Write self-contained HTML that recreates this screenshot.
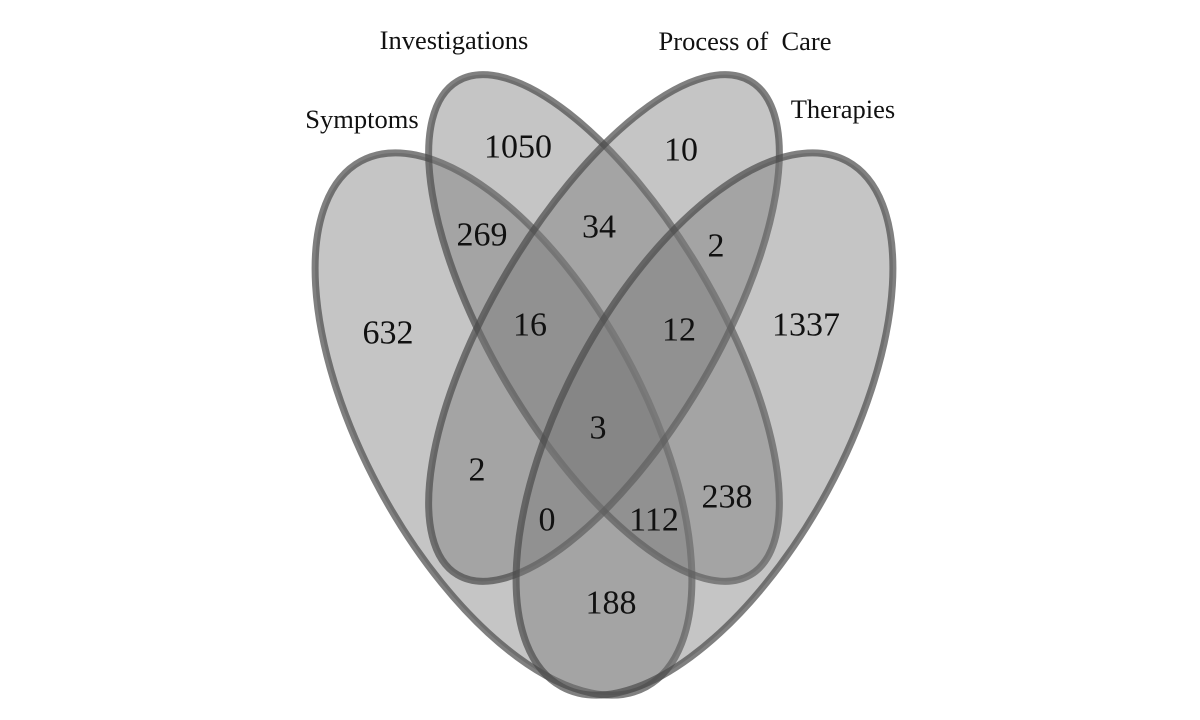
<!DOCTYPE html>
<html><head><style>
html,body{margin:0;padding:0;background:#fff;}
svg{display:block;}
text{font-family:"Liberation Serif",serif;fill:#111;text-anchor:middle;dominant-baseline:central;}
.n{font-size:34px;}
.l{font-size:26.5px;}
</style></head><body>
<svg width="1200" height="720" viewBox="0 0 1200 720">
<g fill="#787878" fill-opacity="0.43" stroke="#4a4a4a" stroke-opacity="0.7" stroke-width="7">
<ellipse cx="503.5" cy="424" rx="140" ry="299" transform="rotate(-28.5 503.5 424)"/>
<ellipse cx="604" cy="328" rx="112" ry="287" transform="rotate(-30.7 604 328)"/>
<ellipse cx="604" cy="328" rx="112" ry="287" transform="rotate(30.7 604 328)"/>
<ellipse cx="704.5" cy="424" rx="140" ry="299" transform="rotate(28.5 704.5 424)"/>
</g>
<text class="l" x="362" y="119">Symptoms</text>
<text class="l" x="454" y="40">Investigations</text>
<text class="l" x="745" y="41">Process of&#160; Care</text>
<text class="l" x="843" y="109">Therapies</text>
<text class="n" x="518" y="147">1050</text>
<text class="n" x="681" y="150">10</text>
<text class="n" x="482" y="235">269</text>
<text class="n" x="599" y="227">34</text>
<text class="n" x="716" y="246">2</text>
<text class="n" x="388" y="333">632</text>
<text class="n" x="530" y="325">16</text>
<text class="n" x="679" y="330">12</text>
<text class="n" x="806" y="325">1337</text>
<text class="n" x="598" y="428">3</text>
<text class="n" x="477" y="470">2</text>
<text class="n" x="727" y="497">238</text>
<text class="n" x="547" y="520">0</text>
<text class="n" x="654" y="520">112</text>
<text class="n" x="611" y="603">188</text>
</svg>
</body></html>
